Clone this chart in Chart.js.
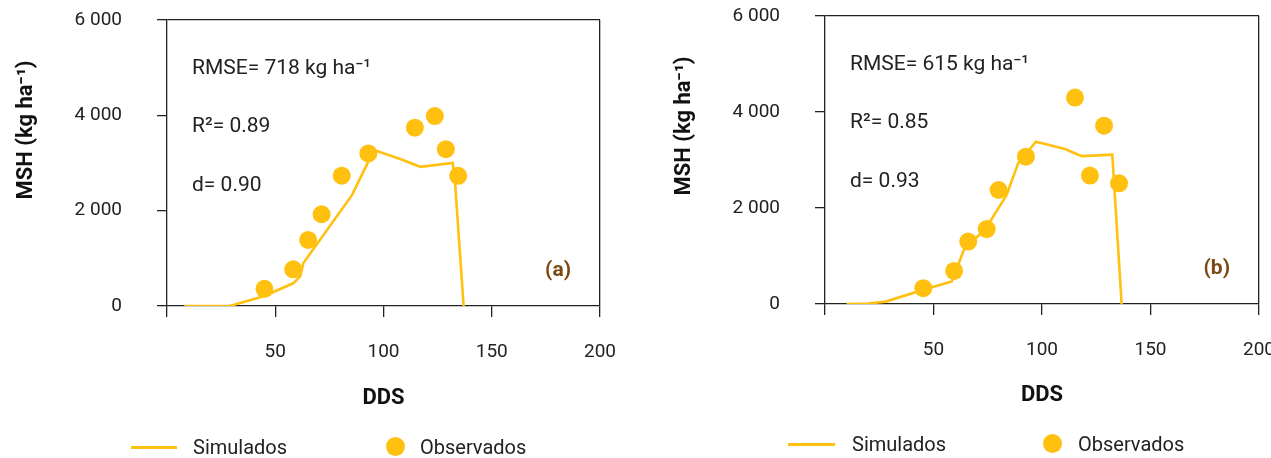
<!DOCTYPE html>
<html>
<head>
<meta charset="utf-8">
<script src="https://cdn.jsdelivr.net/npm/chart.js@4.4.1/dist/chart.umd.min.js"></script>
<style>
html, body { margin: 0; padding: 0; background: #fff; }
body { width: 1271px; height: 458px; overflow: hidden; position: relative; font-family: Roboto, sans-serif; }
canvas { position: absolute; top: 0; }
#chartA { left: 0; }
#chartB { left: 640px; }
.legline { position: absolute; height: 3px; background: #FFC010; }
.legdot { position: absolute; width: 19px; height: 19px; border-radius: 50%; background: #FFC010; }
.legtxt { position: absolute; font: 20px Roboto, sans-serif; line-height: 24px; color: #222; white-space: nowrap; }
</style>
</head>
<body>
<canvas id="chartA" width="630" height="458"></canvas>
<canvas id="chartB" width="660" height="458"></canvas>

<div class="legline" style="left:131px; top:446px; width:46px;"></div>
<span class="legtxt" style="left:193px; top:435px;">Simulados</span>
<div class="legdot" style="left:386px; top:437px;"></div>
<span class="legtxt" style="left:420px; top:435px;">Observados</span>

<div class="legline" style="left:788px; top:443px; width:47px;"></div>
<span class="legtxt" style="left:852px; top:432px;">Simulados</span>
<div class="legdot" style="left:1043px; top:434px;"></div>
<span class="legtxt" style="left:1078px; top:432px;">Observados</span>

<script>
// axis ticks
var xTicks = [0, 50, 100, 150, 200];
var yTicks = [0, 2000, 4000, 6000];

// panel (a)
var simDdsA = [8, 29, 45, 58.3, 61.5, 63, 85.5, 93, 97, 108, 117, 132, 133, 137];
var simMshA = [0, 0, 210, 476, 620, 900, 2330, 3030, 3250, 3080, 2920, 3000, 2620, 0];
var obsDdsA = [45, 58.3, 65.2, 71.4, 80.7, 93, 114.5, 123.7, 128.8, 134.5];
var obsMshA = [360, 770, 1385, 1925, 2735, 3200, 3740, 3985, 3290, 2730];
var statsA = ['RMSE= 718 kg ha\u207B\u00B9', 'R\u00B2= 0.89', 'd= 0.90'];

// panel (b)
var simDdsB = [10, 20, 28, 45, 58.4, 64, 74.2, 83.7, 89, 97.2, 110.6, 118.3, 132.4, 136.7];
var simMshB = [0, 10, 50, 290, 470, 1125, 1580, 2270, 2930, 3380, 3230, 3080, 3110, 0];
var obsDdsB = [45.3, 59.5, 66, 74.5, 80, 92.6, 115.2, 122.1, 128.6, 135.5];
var obsMshB = [330, 690, 1300, 1560, 2375, 3070, 4300, 2675, 3715, 2515];
var statsB = ['RMSE= 615 kg ha\u207B\u00B9', 'R\u00B2= 0.85', 'd= 0.93'];

var gold = '#FFC010';
var ink = '#222';

function pts(xs, ys) {
    return xs.map(function(x, i) { return { x: x, y: ys[i] }; });
}

// scale label padding would otherwise shrink the plot area
function noPad(s) {
    s.paddingTop = 0;
    s.paddingBottom = 0;
    s.paddingLeft = 0;
    s.paddingRight = 0;
}

// stats text, panel letter and y title
var panelText = {
    id: 'panelText',
    afterDraw: function(chart, args, opts) {
        var ctx = chart.ctx;
        var a = chart.chartArea;
        ctx.save();
        ctx.fillStyle = ink;
        ctx.textBaseline = 'middle';
        ctx.textAlign = 'left';
        ctx.font = '21px Roboto, sans-serif';
        var offs = [49, 107, 166];
        opts.stats.forEach(function(t, i) {
            ctx.fillText(t, a.left + 25, a.top + offs[i]);
        });

        ctx.textAlign = 'right';
        ctx.fillStyle = '#7B4A12';
        ctx.font = 'bold 21px Roboto, sans-serif';
        ctx.fillText(opts.panel, a.right - 29, a.bottom - 35);

        ctx.translate(a.left - 141, a.top + 110);
        ctx.rotate(-Math.PI / 2);
        ctx.textAlign = 'center';
        ctx.fillStyle = '#111';
        ctx.font = 'bold 22px Roboto, sans-serif';
        ctx.fillText('MSH (kg ha\u207B\u00B9)', 0, 0);
        ctx.restore();
    }
};

function makeChart(id, simX, simY, obsX, obsY, stats, panel, g) {
    var ctx = document.getElementById(id).getContext('2d');
    return new Chart(ctx, {
        type: 'scatter',
        data: {
            datasets: [
                {
                    label: 'Observados',
                    data: pts(obsX, obsY),
                    backgroundColor: gold,
                    borderWidth: 0,
                    pointRadius: 9,
                    order: 0
                },
                {
                    label: 'Simulados',
                    type: 'line',
                    data: pts(simX, simY),
                    borderColor: gold,
                    borderWidth: 2.6,
                    pointRadius: 0,
                    tension: 0,
                    fill: false,
                    order: 1
                }
            ]
        },
        plugins: [panelText],
        options: {
            responsive: false,
            animation: false,
            layout: { autoPadding: false, padding: { left: 0, top: g.top, right: g.right, bottom: 0 } },
            plugins: {
                legend: { display: false },
                tooltip: { enabled: false },
                panelText: { stats: stats, panel: panel }
            },
            scales: {
                x: {
                    type: 'linear',
                    min: 0,
                    max: 200,
                    afterBuildTicks: function(s) { s.ticks = xTicks.map(function(v) { return { value: v }; }); },
                    afterFit: function(s) { s.height = g.xHeight; noPad(s); },
                    grid: {
                        color: function(c) { return c.tick && c.tick.value === 200 ? ink : 'rgba(0,0,0,0)'; },
                        tickColor: ink,
                        tickLength: 11,
                        lineWidth: 1.3
                    },
                    border: { display: true, color: ink, width: 1.3 },
                    ticks: {
                        padding: 24,
                        color: ink,
                        maxRotation: 0,
                        autoSkip: false,
                        font: { family: 'Roboto', size: 19 },
                        callback: function(v) { return v === 0 ? '' : v; }
                    },
                    title: {
                        display: true,
                        text: 'DDS',
                        color: '#111',
                        font: { family: 'Roboto', size: 22, weight: 'bold' },
                        padding: { top: 0, bottom: g.titlePad }
                    }
                },
                y: {
                    type: 'linear',
                    min: 0,
                    max: 6000,
                    afterBuildTicks: function(s) { s.ticks = yTicks.map(function(v) { return { value: v }; }); },
                    afterFit: function(s) { s.width = g.yWidth; noPad(s); },
                    grid: {
                        color: function(c) { return c.tick && c.tick.value === 6000 ? ink : 'rgba(0,0,0,0)'; },
                        tickColor: ink,
                        tickLength: 10,
                        lineWidth: 1.3
                    },
                    border: { display: true, color: ink, width: 1.3 },
                    ticks: {
                        padding: 35,
                        color: ink,
                        font: { family: 'Roboto', size: 19 },
                        callback: function(v) { return v === 0 ? '0' : v.toLocaleString('en-US').replace(',', ' '); }
                    }
                }
            }
        }
    });
}

makeChart('chartA', simDdsA, simMshA, obsDdsA, obsMshA, statsA, '(a)',
    { top: 20, right: 30, yWidth: 167, xHeight: 152, titlePad: 46 });
makeChart('chartB', simDdsB, simMshB, obsDdsB, obsMshB, statsB, '(b)',
    { top: 16, right: 41, yWidth: 185, xHeight: 154, titlePad: 49 });
</script>
</body>
</html>
